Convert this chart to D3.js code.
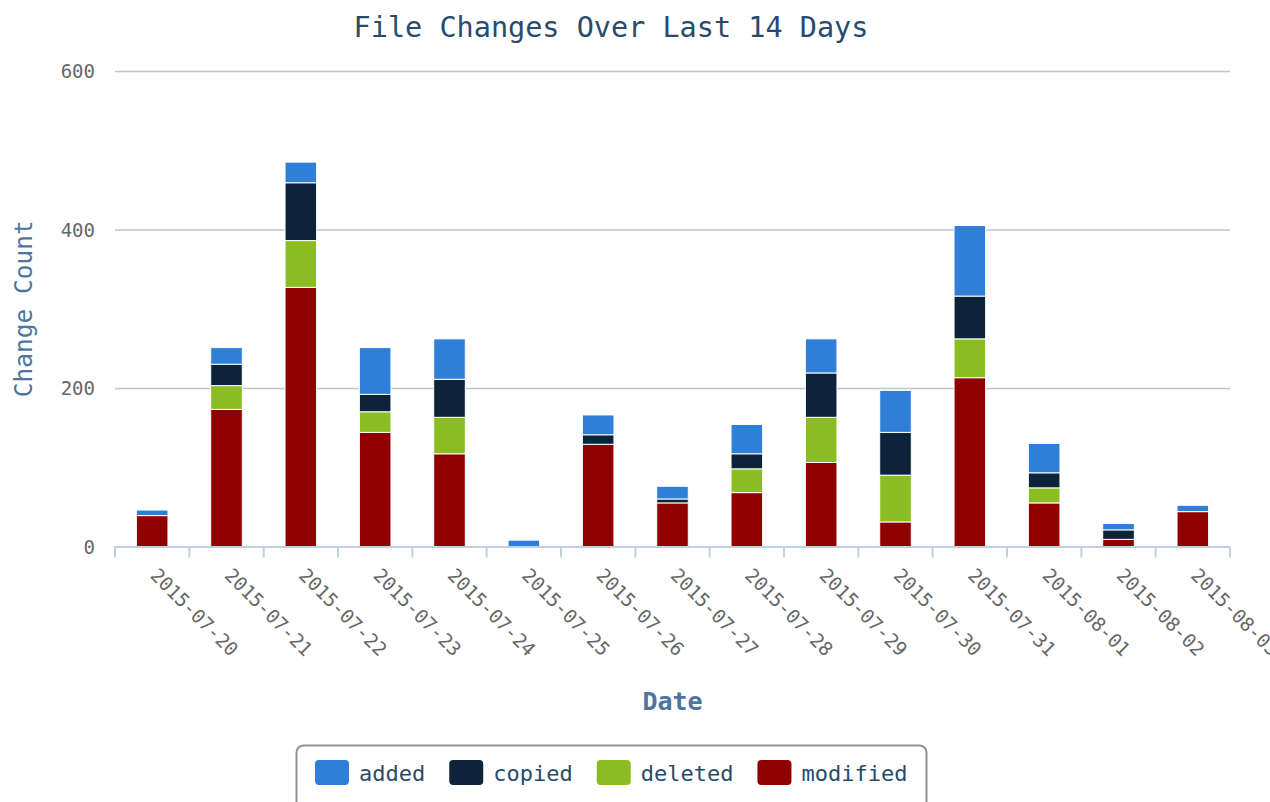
<!DOCTYPE html>
<html>
<head>
<meta charset="utf-8">
<script src="https://cdn.jsdelivr.net/npm/d3@7/dist/d3.min.js"></script>
<style>
  html, body { margin: 0; padding: 0; background: #fff; }
  svg { display: block; font-family: "DejaVu Sans Mono", monospace; }
</style>
</head>
<body>
<svg id="chart" width="1270" height="802"></svg>
<script>
// Daily file change counts, by type of change
const dates = ["2015-07-20", "2015-07-21", "2015-07-22", "2015-07-23", "2015-07-24",
               "2015-07-25", "2015-07-26", "2015-07-27", "2015-07-28", "2015-07-29",
               "2015-07-30", "2015-07-31", "2015-08-01", "2015-08-02", "2015-08-03"];
const modified = [39, 173, 327, 144, 117, 0, 129, 55, 68, 106, 31, 213, 55, 9, 44];
const deleted  = [0, 30, 59, 26, 46, 0, 0, 0, 30, 57, 59, 49, 19, 0, 0];
const copied   = [0, 27, 73, 22, 48, 0, 12, 5, 19, 56, 54, 54, 19, 12, 0];
const added    = [7, 21, 26, 59, 51, 8, 25, 16, 37, 43, 53, 89, 37, 8, 8];

const seriesNames  = ["added", "copied", "deleted", "modified"];
const seriesColors = ["#2f7ed8", "#0d233a", "#8bbc21", "#910000"];
const yTicks = [0, 200, 400, 600];

const titleText = "File Changes Over Last 14 Days";
const xTitle = "Date";
const yTitle = "Change Count";

// rows for the stack layout
const values = { added, copied, deleted, modified };
const rows = dates.map((d, i) => ({
  date: d, added: added[i], copied: copied[i], deleted: deleted[i], modified: modified[i]
}));
const color = d3.scaleOrdinal().domain(seriesNames).range(seriesColors);

const svg = d3.select("#chart");
const plot = { left: 115, right: 1230, top: 71, bottom: 546.5 };

const x = d3.scaleBand()
  .domain(dates)
  .range([plot.left, plot.right])
  .paddingInner(0.575)
  .paddingOuter(0.2875);

const y = d3.scaleLinear()
  .domain([0, 600])
  .range([plot.bottom, plot.top]);

// title
svg.append("text")
  .attr("x", 611).attr("y", 37)
  .attr("text-anchor", "middle")
  .style("font-size", "28.5px")
  .style("fill", "#274b6d")
  .text(titleText);

// y axis: gridlines + labels
const yAxis = svg.append("g")
  .attr("transform", `translate(${plot.left},0)`)
  .call(d3.axisLeft(y).tickValues(yTicks)
    .tickSizeInner(-(plot.right - plot.left)).tickSizeOuter(0).tickPadding(20));
yAxis.select(".domain").remove();
yAxis.selectAll(".tick line")
  .attr("stroke", "#c4c4c4").attr("stroke-width", 1.6)
  .filter(d => d === 0).remove();
yAxis.selectAll(".tick text")
  .attr("dy", "0.36em")
  .style("font-family", "DejaVu Sans Mono")
  .style("font-size", "19px")
  .style("fill", "#666");

// stacked bars, modified at the bottom
const stack = d3.stack().keys(["modified", "deleted", "copied", "added"]);
const layers = stack(rows);

svg.append("g").selectAll("g")
  .data(layers)
  .join("g")
  .attr("fill", d => color(d.key))
  .selectAll("rect")
  .data(d => d.filter(p => p[1] - p[0] > 0))
  .join("rect")
  .attr("x", p => x(p.data.date))
  .attr("width", x.bandwidth())
  .attr("y", p => y(p[1]))
  .attr("height", p => y(p[0]) - y(p[1]))
  .attr("stroke", "#fff")
  .attr("stroke-width", 1);

// x axis: baseline, boundary ticks, rotated labels
const step = x.step();
const boundaries = dates.map(d => x(d) - (step - x.bandwidth()) / 2).concat([plot.right]);
const xg = svg.append("g");
xg.append("line")
  .attr("x1", plot.left).attr("x2", plot.right)
  .attr("y1", plot.bottom + 0.5).attr("y2", plot.bottom + 0.5)
  .attr("stroke", "#c0d0e0").attr("stroke-width", 2);
xg.selectAll("line.tk")
  .data(boundaries)
  .join("line")
  .attr("class", "tk")
  .attr("x1", d => d).attr("x2", d => d)
  .attr("y1", plot.bottom).attr("y2", plot.bottom + 11)
  .attr("stroke", "#c0d0e0").attr("stroke-width", 2);

const xAxis = svg.append("g")
  .attr("transform", `translate(0,${plot.bottom})`)
  .call(d3.axisBottom(x).tickSize(0).tickPadding(0));
xAxis.select(".domain").remove();
xAxis.selectAll(".tick text")
  .attr("y", 0).attr("dy", null)
  .attr("text-anchor", "start")
  .attr("transform", "translate(-3,30) rotate(45)")
  .style("font-family", "DejaVu Sans Mono")
  .style("font-size", "19px")
  .style("fill", "#666");

// axis titles
svg.append("text")
  .attr("x", (plot.left + plot.right) / 2).attr("y", 710)
  .attr("text-anchor", "middle")
  .style("font-size", "25px").style("font-weight", "bold")
  .style("fill", "#4d759e")
  .text(xTitle);

svg.append("text")
  .attr("transform", `translate(32,${(plot.top + plot.bottom) / 2}) rotate(-90)`)
  .attr("text-anchor", "middle")
  .style("font-size", "24.5px")
  .style("fill", "#4d759e")
  .text(yTitle);

// legend
const legend = svg.append("g");
legend.append("rect")
  .attr("x", 296.5).attr("y", 745.5)
  .attr("width", 630).attr("height", 80)
  .attr("rx", 7)
  .attr("fill", "#fff").attr("stroke", "#909090").attr("stroke-width", 2);

let cursor = 315;
seriesNames.forEach(name => {
  const item = legend.append("g").attr("transform", `translate(${cursor},0)`);
  item.append("rect")
    .attr("x", 0).attr("y", 760)
    .attr("width", 34).attr("height", 25)
    .attr("rx", 4)
    .attr("fill", color(name));
  const t = item.append("text")
    .attr("x", 44).attr("y", 781)
    .style("font-size", "22px")
    .style("fill", "#274b6d")
    .text(name);
  cursor += 44 + t.node().getComputedTextLength() + 24;
});
</script>
</body>
</html>
